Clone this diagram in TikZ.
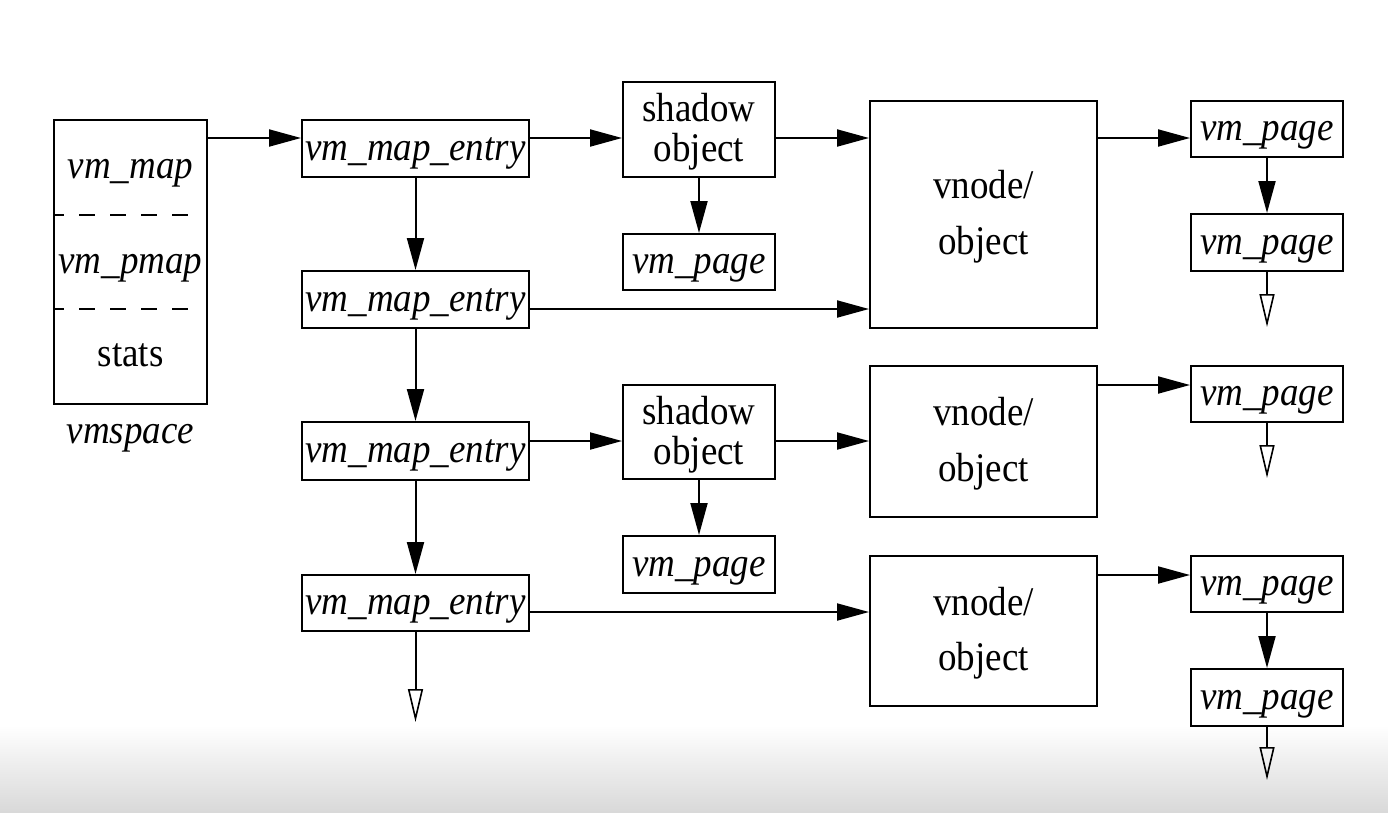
\documentclass[tikz,border=0pt]{standalone}
\usepackage{fontspec}
\setmainfont{Liberation Serif}
\usetikzlibrary{arrows.meta}
\def\tall#1{\raisebox{-4pt}[\height][\depth]{\scalebox{1}[1.1]{\begin{tabular}{@{}c@{}}#1\end{tabular}}}}

\begin{document}
\begin{tikzpicture}[x=1pt, y=-1pt,
		box/.style={draw, line width=2pt, inner sep=0pt, font=\fontsize{37}{36}\selectfont},
		txt/.style={inner sep=0pt, font=\fontsize{37}{36}\selectfont},
		arr/.style={line width=2pt, -{Triangle[length=32pt, width=17pt]}},
		more/.style={line width=2pt, -{Triangle[open, length=33pt, width=15pt, line width=1.6pt]}}]
		%%%%% START %%%%%
		
		\useasboundingbox (0, 0) rectangle (1388, 812);
		\shade[top color=white, bottom color=black!15] (0, 725) rectangle (1388, 812);
		
		% vmspace
		\node[box, minimum width=153, minimum height=284] (vmspace) at (130.5, 262) {};
		\node[txt] (vmmap) at (130.5, 167) {\tall{\itshape vm\_map}};
		\node[txt] (vmpmap) at (130.5, 262) {\tall{\itshape vm\_pmap}};
		\node[txt] (vmstats) at (130.5, 355) {\tall{stats}};
		\node[txt] (vmname) at (130.5, 432) {\tall{\itshape vmspace}};
		\draw[line width=2pt, dash pattern=on 16pt off 15pt, dash phase=5pt] (vmspace.west |- 0,215) -- (192, 215);
		\draw[line width=2pt, dash pattern=on 16pt off 15pt, dash phase=5pt] (vmspace.west |- 0,309) -- (192, 309);
		
		% map entries
		\node[box, minimum width=227, minimum height=57] (vme1) at (415.5, 148.5) {\tall{\itshape vm\_map\_entry}};
		\node[box, minimum width=227, minimum height=57] (vme2) at (415.5, 299.5) {\tall{\itshape vm\_map\_entry}};
		\node[box, minimum width=227, minimum height=58] (vme3) at (415.5, 451) {\tall{\itshape vm\_map\_entry}};
		\node[box, minimum width=227, minimum height=56] (vme4) at (415.5, 603) {\tall{\itshape vm\_map\_entry}};
		
		% shadow objects
		\node[box, minimum width=152, minimum height=95] (shadow1) at (699, 129.5) {\tall{shadow\\object}};
		\node[box, minimum width=152, minimum height=56] (spage1) at (699, 262) {\tall{\itshape vm\_page}};
		\node[box, minimum width=152, minimum height=94] (shadow2) at (699, 432) {\tall{shadow\\object}};
		\node[box, minimum width=152, minimum height=57] (spage2) at (699, 564.5) {\tall{\itshape vm\_page}};
		
		% vnodes
		\node[box, minimum width=227, minimum height=227] (vnode1) at (983.5, 214.5) {\tall{vnode/\\[14pt]object}};
		\node[box, minimum width=227, minimum height=151] (vnode2) at (983.5, 441.5) {\tall{vnode/\\[14pt]object}};
		\node[box, minimum width=227, minimum height=150] (vnode3) at (983.5, 631) {\tall{vnode/\\[14pt]object}};
		
		% pages
		\node[box, minimum width=152, minimum height=56] (page1) at (1267, 129) {\tall{\itshape vm\_page}};
		\node[box, minimum width=152, minimum height=57] (page2) at (1267, 242.5) {\tall{\itshape vm\_page}};
		\node[box, minimum width=152, minimum height=56] (page3) at (1267, 394) {\tall{\itshape vm\_page}};
		\node[box, minimum width=152, minimum height=56] (page4) at (1267, 584) {\tall{\itshape vm\_page}};
		\node[box, minimum width=152, minimum height=57] (page5) at (1267, 697.5) {\tall{\itshape vm\_page}};
		
		\coordinate (next1) at (1267, 327);
		\coordinate (next2) at (1267, 478);
		\coordinate (next3) at (415.5, 722);
		\coordinate (next4) at (1267, 780);
		
		% top row
		\draw[arr] (vmspace.east |- 0,138) -- (vme1.west |- 0,138);
		\draw[arr] (vme1.east |- 0,138) -- (shadow1.west |- 0,138);
		\draw[arr] (shadow1.east |- 0,138) -- (vnode1.west |- 0,138);
		\draw[arr] (vnode1.east |- 0,138) -- (page1.west |- 0,138);
		\draw[arr] (shadow1) -- (spage1);
		\draw[arr] (page1) -- (page2);
		\draw[more] (page2.south) -- (next1);
		
		\draw[arr] (vme1) -- (vme2);
		\draw[arr] (vme2.east |- 0,309) -- (vnode1.west |- 0,309);
		
		\draw[arr] (vme2) -- (vme3);
		\draw[arr] (vme3.east |- 0,441) -- (shadow2.west |- 0,441);
		\draw[arr] (shadow2.east |- 0,441) -- (vnode2.west |- 0,441);
		\draw[arr] (shadow2) -- (spage2);
		\draw[arr] (vnode2.east |- 0,385) -- (page3.west |- 0,385);
		\draw[more] (page3.south) -- (next2);
		
		\draw[arr] (vme3) -- (vme4);
		\draw[more] (vme4.south) -- (next3);
		\draw[arr] (vme4.east |- 0,612) -- (vnode3.west |- 0,612);
		\draw[arr] (vnode3.east |- 0,575) -- (page4.west |- 0,575);
		\draw[arr] (page4) -- (page5);
		\draw[more] (page5.south) -- (next4);
		
		%%%%% END %%%%%
	\end{tikzpicture}
\end{document}
